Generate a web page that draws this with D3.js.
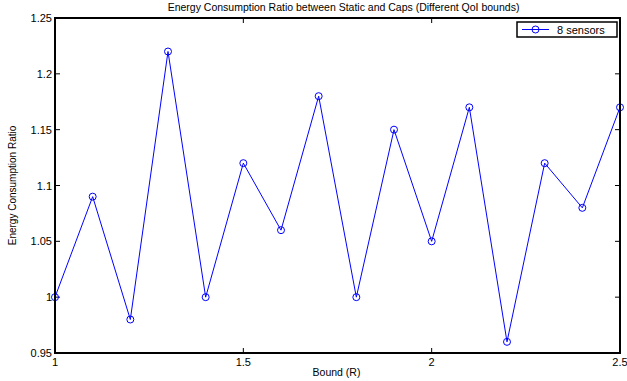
<!DOCTYPE html>
<html>
<head>
<meta charset="utf-8">
<script src="https://cdn.jsdelivr.net/npm/d3@7"></script>
<style>
  body { margin: 0; background: #fff; }
  text { font-family: "Liberation Sans", Arial, sans-serif; }
</style>
</head>
<body>
<svg id="chart"></svg>
<script>
// data
const bounds = [1.0, 1.1, 1.2, 1.3, 1.4, 1.5, 1.6, 1.7, 1.8, 1.9, 2.0, 2.1, 2.2, 2.3, 2.4, 2.5];
const ratios = [1.0, 1.09, 0.98, 1.22, 1.0, 1.12, 1.06, 1.18, 1.0, 1.15, 1.05, 1.17, 0.96, 1.12, 1.08, 1.17];
const xTicks = [1, 1.5, 2, 2.5];
const yTicks = [0.95, 1, 1.05, 1.1, 1.15, 1.2, 1.25];
const seriesName = "8 sensors";

const width = 627, height = 381;
const margin = {top: 18, right: 7, bottom: 28, left: 55};
const innerW = width - margin.left - margin.right;
const innerH = height - margin.top - margin.bottom;

const svg = d3.select("#chart")
  .attr("width", width)
  .attr("height", height);

const x = d3.scaleLinear().domain([1, 2.5]).range([margin.left, margin.left + innerW]);
const y = d3.scaleLinear().domain([0.95, 1.25]).range([margin.top + innerH, margin.top]);

const tickLen = 5;
const fmt = d => String(+d.toFixed(2));

// ticks (inward, on all four sides like matlab box)
const g = svg.append("g").attr("stroke", "#000").attr("stroke-width", 1);
xTicks.forEach(t => {
  g.append("line").attr("x1", x(t)).attr("x2", x(t)).attr("y1", y(0.95)).attr("y2", y(0.95) - tickLen);
  g.append("line").attr("x1", x(t)).attr("x2", x(t)).attr("y1", y(1.25)).attr("y2", y(1.25) + tickLen);
});
yTicks.forEach(t => {
  g.append("line").attr("x1", x(1)).attr("x2", x(1) + tickLen).attr("y1", y(t)).attr("y2", y(t));
  g.append("line").attr("x1", x(2.5)).attr("x2", x(2.5) - tickLen).attr("y1", y(t)).attr("y2", y(t));
});

// tick labels
svg.append("g").selectAll("text").data(xTicks).join("text")
  .attr("x", d => x(d)).attr("y", y(0.95) + 13)
  .attr("text-anchor", "middle").attr("font-size", 11)
  .text(fmt);
svg.append("g").selectAll("text").data(yTicks).join("text")
  .attr("x", x(1) - 3).attr("y", d => y(d) + 4)
  .attr("text-anchor", "end").attr("font-size", 11)
  .text(fmt);

// line + markers
const line = d3.line().x((d, i) => x(bounds[i])).y(d => y(d));
svg.append("path").datum(ratios)
  .attr("d", line)
  .attr("fill", "none").attr("stroke", "#0000ff").attr("stroke-width", 1);
svg.append("g").selectAll("circle").data(ratios).join("circle")
  .attr("cx", (d, i) => x(bounds[i])).attr("cy", d => y(d))
  .attr("r", 3.5).attr("fill", "none").attr("stroke", "#0000ff").attr("stroke-width", 1);

// frame
svg.append("rect")
  .attr("x", x(1)).attr("y", y(1.25))
  .attr("width", innerW).attr("height", innerH)
  .attr("fill", "none").attr("stroke", "#000").attr("stroke-width", 2);

// legend
const lg = svg.append("g").attr("transform", `translate(${x(2.5) - 103},22)`);
lg.append("rect").attr("width", 100).attr("height", 15)
  .attr("fill", "#fff").attr("stroke", "#000").attr("stroke-width", 1.5);
lg.append("line").attr("x1", 5).attr("x2", 32).attr("y1", 7.5).attr("y2", 7.5)
  .attr("stroke", "#0000ff");
lg.append("circle").attr("cx", 18.5).attr("cy", 7.5).attr("r", 3.5)
  .attr("fill", "none").attr("stroke", "#0000ff");
lg.append("text").attr("x", 40).attr("y", 11.5).attr("font-size", 11).text(seriesName);

// titles
svg.append("text").attr("x", x(1) + innerW / 2 + 6).attr("y", 11)
  .attr("text-anchor", "middle").attr("font-size", 10.5)
  .text("Energy Consumption Ratio between Static and Caps (Different QoI bounds)");
svg.append("text").attr("x", x(1) + innerW / 2 - 1).attr("y", 376)
  .attr("text-anchor", "middle").attr("font-size", 10.5)
  .text("Bound (R)");
svg.append("text")
  .attr("transform", `translate(16,${y(1.1)}) rotate(-90)`)
  .attr("text-anchor", "middle").attr("font-size", 10)
  .text("Energy Consumption Ratio");
</script>
</body>
</html>
